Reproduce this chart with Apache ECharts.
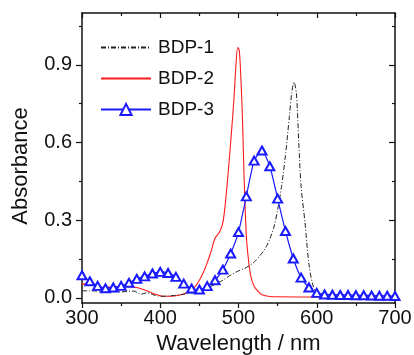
<!DOCTYPE html>
<html>
<head>
<meta charset="utf-8">
<script src="https://cdn.jsdelivr.net/npm/echarts@6/dist/echarts.min.js"></script>
<style>
  html, body { margin: 0; padding: 0; background: #fff; }
  #chart { width: 414px; height: 355px; }
</style>
</head>
<body>
<div id="chart"></div>
<script>
// BDP-1: [wavelength nm, absorbance]
const bdp1 = [
  [300, 0.027], [310, 0.027], [320, 0.026], [330, 0.025], [340, 0.024], [350, 0.023],
  [360, 0.025], [366, 0.026], [372, 0.018], [376, 0.014], [382, 0.019], [386, 0.018],
  [392, 0.011], [400, 0.006], [410, 0.007], [420, 0.010], [430, 0.014], [440, 0.018],
  [450, 0.026], [460, 0.038], [470, 0.052], [480, 0.068], [490, 0.088], [500, 0.104],
  [510, 0.117], [520, 0.138], [528, 0.165], [535, 0.195], [540, 0.228], [545, 0.27],
  [550, 0.34], [555, 0.43], [560, 0.55], [565, 0.70], [568, 0.79], [571, 0.833],
  [574, 0.79], [577, 0.60], [580, 0.43], [585, 0.29], [590, 0.13], [595, 0.05],
  [600, 0.022], [610, 0.013], [620, 0.011], [640, 0.010], [660, 0.009], [680, 0.008], [700, 0.008]
];
// BDP-2
const bdp2 = [
  [300, 0.051], [305, 0.055], [310, 0.055], [315, 0.050], [320, 0.043], [330, 0.041],
  [340, 0.042], [350, 0.042], [360, 0.043], [370, 0.040], [380, 0.030], [390, 0.018],
  [400, 0.008], [405, 0.006], [410, 0.006], [420, 0.008], [430, 0.015], [440, 0.030],
  [445, 0.045], [450, 0.068], [455, 0.098], [460, 0.135], [465, 0.180], [470, 0.230],
  [476, 0.255], [480, 0.290], [483, 0.360], [487, 0.490], [491, 0.640], [494, 0.760],
  [497, 0.910], [499, 0.967], [501, 0.955], [503, 0.850], [505, 0.700], [507, 0.480],
  [510, 0.240], [513, 0.140], [516, 0.080], [520, 0.045], [525, 0.025], [530, 0.012],
  [540, 0.005], [550, 0.004], [600, 0.003], [650, 0.003], [700, 0.002]
];
// BDP-3, one marker every 10 nm
const bdp3Wave = [];
for (let w = 300; w <= 700; w += 10) bdp3Wave.push(w);
const bdp3Abs = [
  0.087, 0.064, 0.046, 0.037, 0.040, 0.046, 0.058, 0.073, 0.083, 0.094,
  0.100, 0.096, 0.081, 0.055, 0.036, 0.032, 0.045, 0.068, 0.109, 0.171,
  0.254, 0.392, 0.530, 0.569, 0.508, 0.383, 0.258, 0.152, 0.078, 0.040,
  0.019, 0.013, 0.012, 0.011, 0.011, 0.010, 0.010, 0.009, 0.008, 0.008, 0.007
];
const yMajor = [0, 0.3, 0.6, 0.9];
const yMinor = [0.15, 0.45, 0.75, 1.05];

const font = 'Liberation Sans, Arial, sans-serif';
const ink = '#111';

const chart = echarts.init(document.getElementById('chart'));

function xAx(top) {
  return {
    type: 'value', min: 300, max: 700, interval: 100,
    position: top ? 'top' : 'bottom',
    name: top ? '' : 'Wavelength / nm',
    nameLocation: 'middle', nameGap: 29,
    nameTextStyle: { fontFamily: font, fontSize: 22, color: ink },
    axisLine: { show: true, onZero: false, lineStyle: { color: ink, width: 1.5 } },
    axisTick: { show: true, inside: top, length: 5, lineStyle: { color: ink, width: 1.2 } },
    minorTick: { show: true, splitNumber: 2, length: 3, lineStyle: { color: ink, width: 1.2 } },
    axisLabel: { show: !top, margin: 5, fontFamily: font, fontSize: 20, color: ink },
    splitLine: { show: false }
  };
}

function yAx(right, minor) {
  return {
    type: 'value', min: -0.02, max: 1.1,
    position: right ? 'right' : 'left',
    name: (!right && !minor) ? 'Absorbance' : '',
    nameLocation: 'middle', nameGap: 50,
    nameTextStyle: { fontFamily: font, fontSize: 22, color: ink, padding: [0, 16, 0, 0] },
    axisLine: { show: !minor, onZero: false, lineStyle: { color: ink, width: 1.5 } },
    axisTick: {
      show: true, inside: right, length: minor ? 3 : 6,
      customValues: minor ? yMinor : yMajor,
      lineStyle: { color: ink, width: 1.2 }
    },
    axisLabel: {
      show: !right && !minor, margin: 10, fontFamily: font, fontSize: 20, color: ink,
      customValues: yMajor,
      formatter: v => v.toFixed(1)
    },
    splitLine: { show: false }
  };
}

chart.setOption({
  backgroundColor: '#fff',
  animation: false,
  grid: { left: 82, right: 19, top: 13, bottom: 52, outerBoundsMode: 'none' },
  legend: {
    orient: 'vertical', left: 100, top: 38, padding: 0,
    itemWidth: 50, itemHeight: 14, itemGap: 12,
    textStyle: { fontFamily: font, fontSize: 19, color: ink, padding: [0, 0, 0, 2] },
    data: [
      { name: 'BDP-1', itemStyle: { opacity: 0 } },
      { name: 'BDP-2', itemStyle: { opacity: 0 } },
      'BDP-3'
    ]
  },
  xAxis: [xAx(false), xAx(true)],
  yAxis: [yAx(false, false), yAx(false, true), yAx(true, false), yAx(true, true)],
  series: [
    {
      name: 'BDP-1', type: 'line', data: bdp1, smooth: 0.3, showSymbol: false, symbol: 'none',
      lineStyle: { color: '#222', width: 1, type: [5, 2, 1, 2] }, itemStyle: { color: '#222' },
      z: 3
    },
    {
      name: 'BDP-2', type: 'line', data: bdp2, smooth: 0.3, showSymbol: false, symbol: 'none',
      lineStyle: { color: '#ff1a1a', width: 1.1 }, itemStyle: { color: '#ff1a1a' },
      z: 2
    },
    {
      name: 'BDP-3', type: 'line', data: bdp3Wave.map((w, i) => [w, bdp3Abs[i]]),
      smooth: 0.2, symbol: 'emptyTriangle', symbolSize: [9, 8],
      lineStyle: { color: '#1a1aff', width: 1.2 },
      itemStyle: { color: '#1a1aff', borderWidth: 1.2 },
      z: 4
    }
  ]
});
</script>
</body>
</html>
